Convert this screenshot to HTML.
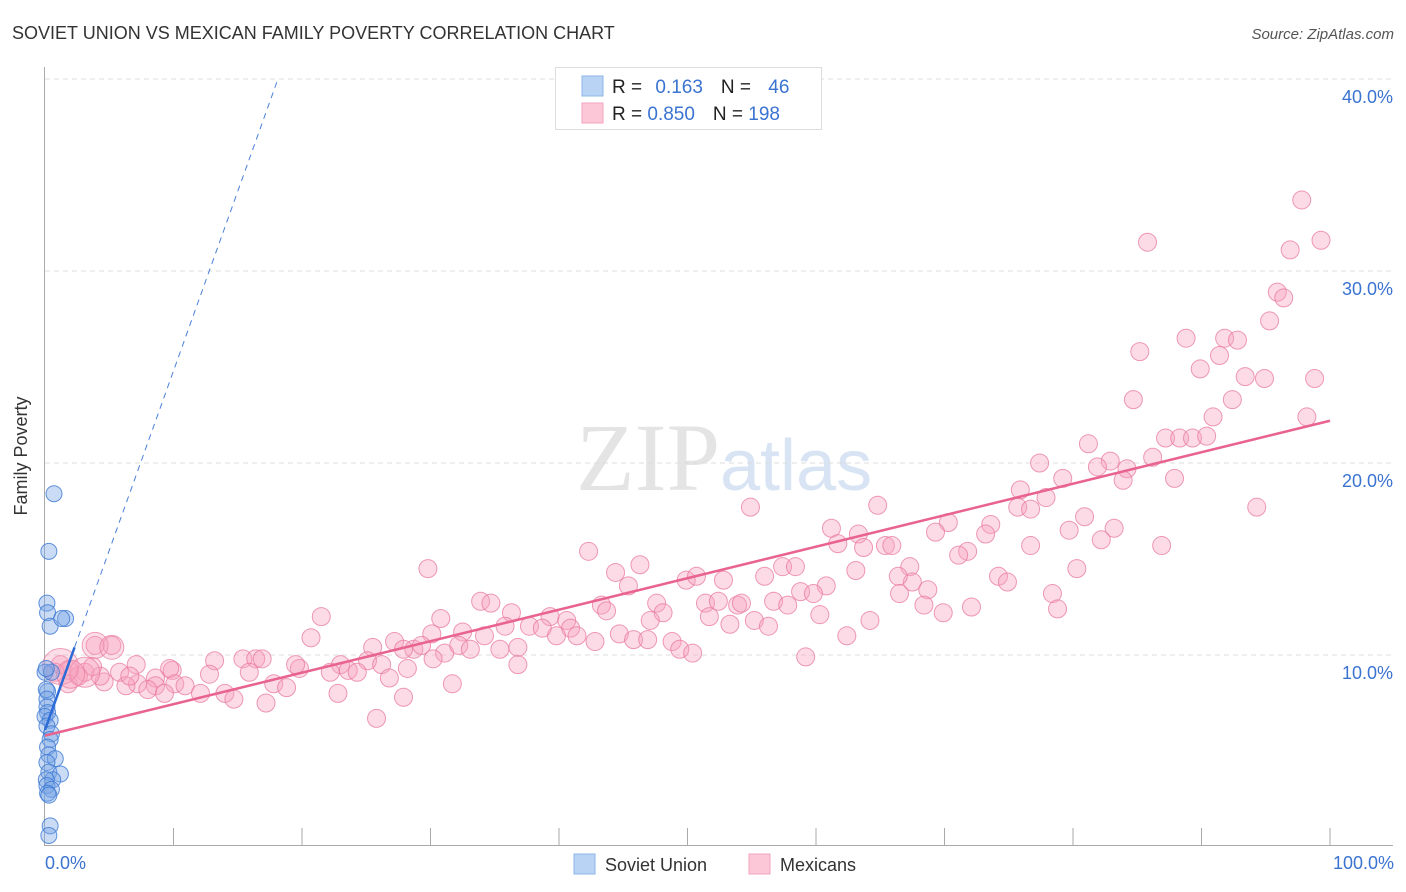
<!DOCTYPE html>
<html><head><meta charset="utf-8"><style>
body{margin:0;background:#fff;font-family:"Liberation Sans",sans-serif;}
svg{display:block}
</style></head><body>
<svg id="chart" width="1406" height="892">
<text x="12" y="39" font-size="18" fill="#333">SOVIET UNION VS MEXICAN FAMILY POVERTY CORRELATION CHART</text>
<text x="1394" y="39" font-size="15" fill="#555" font-style="italic" text-anchor="end">Source: ZipAtlas.com</text>
<text x="720" y="490" font-size="96" fill="#e4e4e4" text-anchor="end" font-family="Liberation Serif">ZIP</text>
<text x="720" y="490" font-size="72" fill="#d8e4f4">atlas</text>
<g id="grid"></g><g id="axes"></g><g id="pink"></g><g id="blue"></g><g id="lines"></g>
<text x="27" y="456" font-size="18" fill="#333" text-anchor="middle" transform="rotate(-90 27 456)">Family Poverty</text>
<text x="45" y="869" font-size="18" fill="#3b73d1">0.0%</text>
<text x="1394" y="869" font-size="18" fill="#3b73d1" text-anchor="end">100.0%</text>
<g>
<rect x="555.5" y="67.5" width="266" height="62" fill="#fff" stroke="#ddd"/>
<rect x="582" y="76" width="21" height="20" fill="#b9d3f5" stroke="#8fb4e8"/>
<rect x="582" y="103" width="21" height="20" fill="#fcc8d8" stroke="#f3a3bd"/>
<text x="612" y="93" font-size="19" fill="#222">R = <tspan fill="#3b73d1" dx="8">0.163</tspan><tspan dx="18" fill="#222">N = </tspan><tspan dx="12" fill="#3b73d1">46</tspan></text>
<text x="612" y="120" font-size="19" fill="#222">R = <tspan fill="#3b73d1">0.850</tspan><tspan dx="18" fill="#222">N = </tspan><tspan fill="#3b73d1">198</tspan></text>
</g>
<g>
<rect x="574" y="854" width="21" height="20" fill="#b9d3f5" stroke="#8fb4e8"/>
<text x="605" y="871" font-size="18" fill="#333">Soviet Union</text>
<rect x="749" y="854" width="21" height="20" fill="#fcc8d8" stroke="#f3a3bd"/>
<text x="780" y="871" font-size="18" fill="#333">Mexicans</text>
</g>
</svg>
<script>
const yTicks=[10,20,30,40];
const yTickLabels=["10.0%","20.0%","30.0%","40.0%"];
const xTicks=[10,20,30,40,50,60,70,80,90,100];
const pinkX=[97.8,99.3,85.8,96.9,95.9,96.4,88.8,91.8,92.8,85.2,91.4,89.9,95.3,93.4,94.9,98.8,84.7,92.4,90.9,98.2,81.2,87.2,88.3,89.3,90.4,86.2,77.4,79.2,82.9,81.9,84.2,87.9,83.9,75.9,77.9,75.7,76.7,94.3,64.8,54.9,80.9,79.7,83.2,82.2,86.9,76.7,61.2,63.3,61.7,70.3,69.3,73.6,73.2,71.8,71.1,65.4,65.9,63.7,42.3,46.3,67.3,29.8,44.4,63.1,57.4,58.4,80.3,74.2,74.9,56.0,49.9,50.7,52.8,45.4,67.5,66.4,33.9,34.7,30.8,39.3,43.3,43.7,47.6,48.1,51.4,52.4,53.9,54.2,56.7,57.8,58.8,60.8,59.8,66.5,68.7,72.1,78.4,78.8,21.5,36.3,37.7,40.6,40.9,38.7,35.8,32.5,34.2,30.1,47.1,51.7,53.3,55.2,56.3,60.3,64.2,68.4,69.9,20.7,25.5,27.2,28.7,31.1,35.4,36.8,39.8,41.4,42.8,44.7,45.8,46.9,48.8,49.4,50.4,62.4,59.2,13.2,15.4,16.4,16.9,19.8,23.0,25.1,26.2,27.9,29.3,30.2,32.2,33.1,36.8,7.1,9.9,9.7,26.8,28.2,23.6,24.3,22.2,19.5,15.9,12.8,8.6,5.8,4.6,4.3,3.1,3.7,1.9,1.2,0.8,2.6,1.8,7.2,8.6,8.0,10.1,10.9,12.1,14.0,14.7,17.2,17.8,18.8,22.8,27.9,31.7,25.8,6.3,5.2,3.9,9.3,6.6];
const pinkY=[33.7,31.6,31.5,31.1,28.9,28.6,26.5,26.5,26.4,25.8,25.6,24.9,27.4,24.5,24.4,24.4,23.3,23.3,22.4,22.4,21.0,21.3,21.3,21.3,21.4,20.3,20.0,19.2,20.1,19.8,19.7,19.2,19.1,18.6,18.2,17.7,17.6,17.7,17.8,17.7,17.2,16.5,16.6,16.0,15.7,15.7,16.6,16.3,15.8,16.9,16.4,16.8,16.3,15.4,15.2,15.7,15.7,15.6,15.4,14.7,14.6,14.5,14.3,14.4,14.6,14.6,14.5,14.1,13.8,14.1,13.9,14.1,13.9,13.6,13.8,14.1,12.8,12.7,11.9,12.0,12.6,12.3,12.7,12.2,12.7,12.8,12.6,12.7,12.8,12.6,13.3,13.6,13.2,13.2,13.4,12.5,13.2,12.4,12.0,12.2,11.5,11.8,11.4,11.4,11.5,11.2,11.0,11.1,11.8,12.0,11.6,11.8,11.5,12.1,11.8,12.6,12.2,10.9,10.4,10.7,10.3,10.1,10.3,10.4,11.0,11.0,10.7,11.1,10.8,10.8,10.7,10.3,10.1,11.0,9.9,9.7,9.8,9.8,9.8,9.3,9.5,9.7,9.5,10.3,10.5,9.8,10.5,10.3,9.5,9.5,9.2,9.3,8.8,9.3,9.2,9.1,9.1,9.5,9.1,9.0,8.8,9.1,8.6,8.9,9.1,9.4,9.2,9.5,9.1,8.9,8.5,8.5,8.4,8.2,8.5,8.4,8.0,8.0,7.7,7.5,8.5,8.3,8.0,7.8,8.5,6.7,8.4,10.5,10.5,8.0,8.9];
const pinkBigX=[1.2,3.1,3.9,5.2,2.0];
const pinkBigY=[9.4,9.1,10.5,10.4,9.0];
const pinkBigR=[18,15,13,12,14];
const blueX=[0.7,0.3,0.15,0.2,0.4,1.6,1.3,0,0.5,0.1,0.2,0.1,0.15,0.15,0.2,0,0.4,0.15,0.5,0.4,0.2,0.3,0.8,0.15,0.3,1.2,0.6,0.1,0.15,0.5,0.2,0.3,0.4,0.3];
const blueY=[18.4,15.4,12.7,12.2,11.5,11.9,11.9,9.1,9.1,9.3,8.1,8.2,7.7,7.3,7.0,6.8,6.6,6.3,5.9,5.6,5.2,4.8,4.6,4.4,3.9,3.8,3.5,3.5,3.2,3.0,2.8,2.7,1.1,0.6];
const pinkFit=[5.8,22.2];
const blueFit=[6.1,1.87];
const NS="http://www.w3.org/2000/svg";
const X0=45,X1=1330,Y0=847,PPY=19.2;
const sx=v=>X0+(X1-X0)*v/100;
const sy=v=>Y0-v*PPY;
function mk(tag,attrs,parent){const e=document.createElementNS(NS,tag);for(const k in attrs)e.setAttribute(k,attrs[k]);document.getElementById(parent).appendChild(e);return e;}
yTicks.forEach((t,i)=>{
 const g=mk('line',{x1:45,x2:1393,y1:sy(t),y2:sy(t),stroke:'#ddd','stroke-dasharray':'5,4'},'grid');
 
 
 const l=mk('text',{x:1393,y:sy(t)+24,'font-size':18,fill:'#3b73d1','text-anchor':'end'},'grid');
 l.textContent=yTickLabels[i];
 
 
});
const ax=mk('line',{x1:44.5,x2:44.5,y1:67,y2:845,stroke:'#aaa'},'axes');


const bx=mk('line',{x1:44,x2:1393,y1:845.5,y2:845.5,stroke:'#aaa'},'axes');


xTicks.forEach(t=>{
 const tk=mk('line',{x1:sx(t),x2:sx(t),y1:828,y2:845,stroke:'#aaa'},'axes');
 
 
});
pinkX.forEach((x,i)=>{
 const c=mk('circle',{cx:sx(x),cy:sy(pinkY[i]),r:9,fill:'rgba(246,160,188,0.38)',stroke:'rgba(232,120,160,0.75)','stroke-width':1},'pink');
 
 
});
pinkBigX.forEach((x,i)=>{
 const c=mk('circle',{cx:sx(x),cy:sy(pinkBigY[i]),r:pinkBigR[i],fill:'rgba(246,160,188,0.35)',stroke:'rgba(232,120,160,0.7)','stroke-width':1},'pink');
 
 
});
blueX.forEach((x,i)=>{
 const c=mk('circle',{cx:sx(x),cy:sy(blueY[i]),r:8,fill:'rgba(120,165,230,0.4)',stroke:'rgba(60,120,210,0.8)','stroke-width':1},'blue');
 
 
});
const pl=mk('line',{x1:sx(0),y1:sy(pinkFit[0]),x2:sx(100),y2:sy(pinkFit[1]),stroke:'#e8648f','stroke-width':2.5},'lines');


const xEnd=(40-blueFit[0])/blueFit[1];
const bd=mk('line',{x1:sx(0),y1:sy(blueFit[0]),x2:sx(xEnd),y2:sy(40),stroke:'#4a80d8','stroke-width':1,'stroke-dasharray':'6,5'},'lines');


const bs=mk('line',{x1:sx(0),y1:sy(blueFit[0]),x2:sx(2.3),y2:sy(blueFit[0]+blueFit[1]*2.3),stroke:'#2d6bd6','stroke-width':2.5},'lines');


</script>
</body></html>
